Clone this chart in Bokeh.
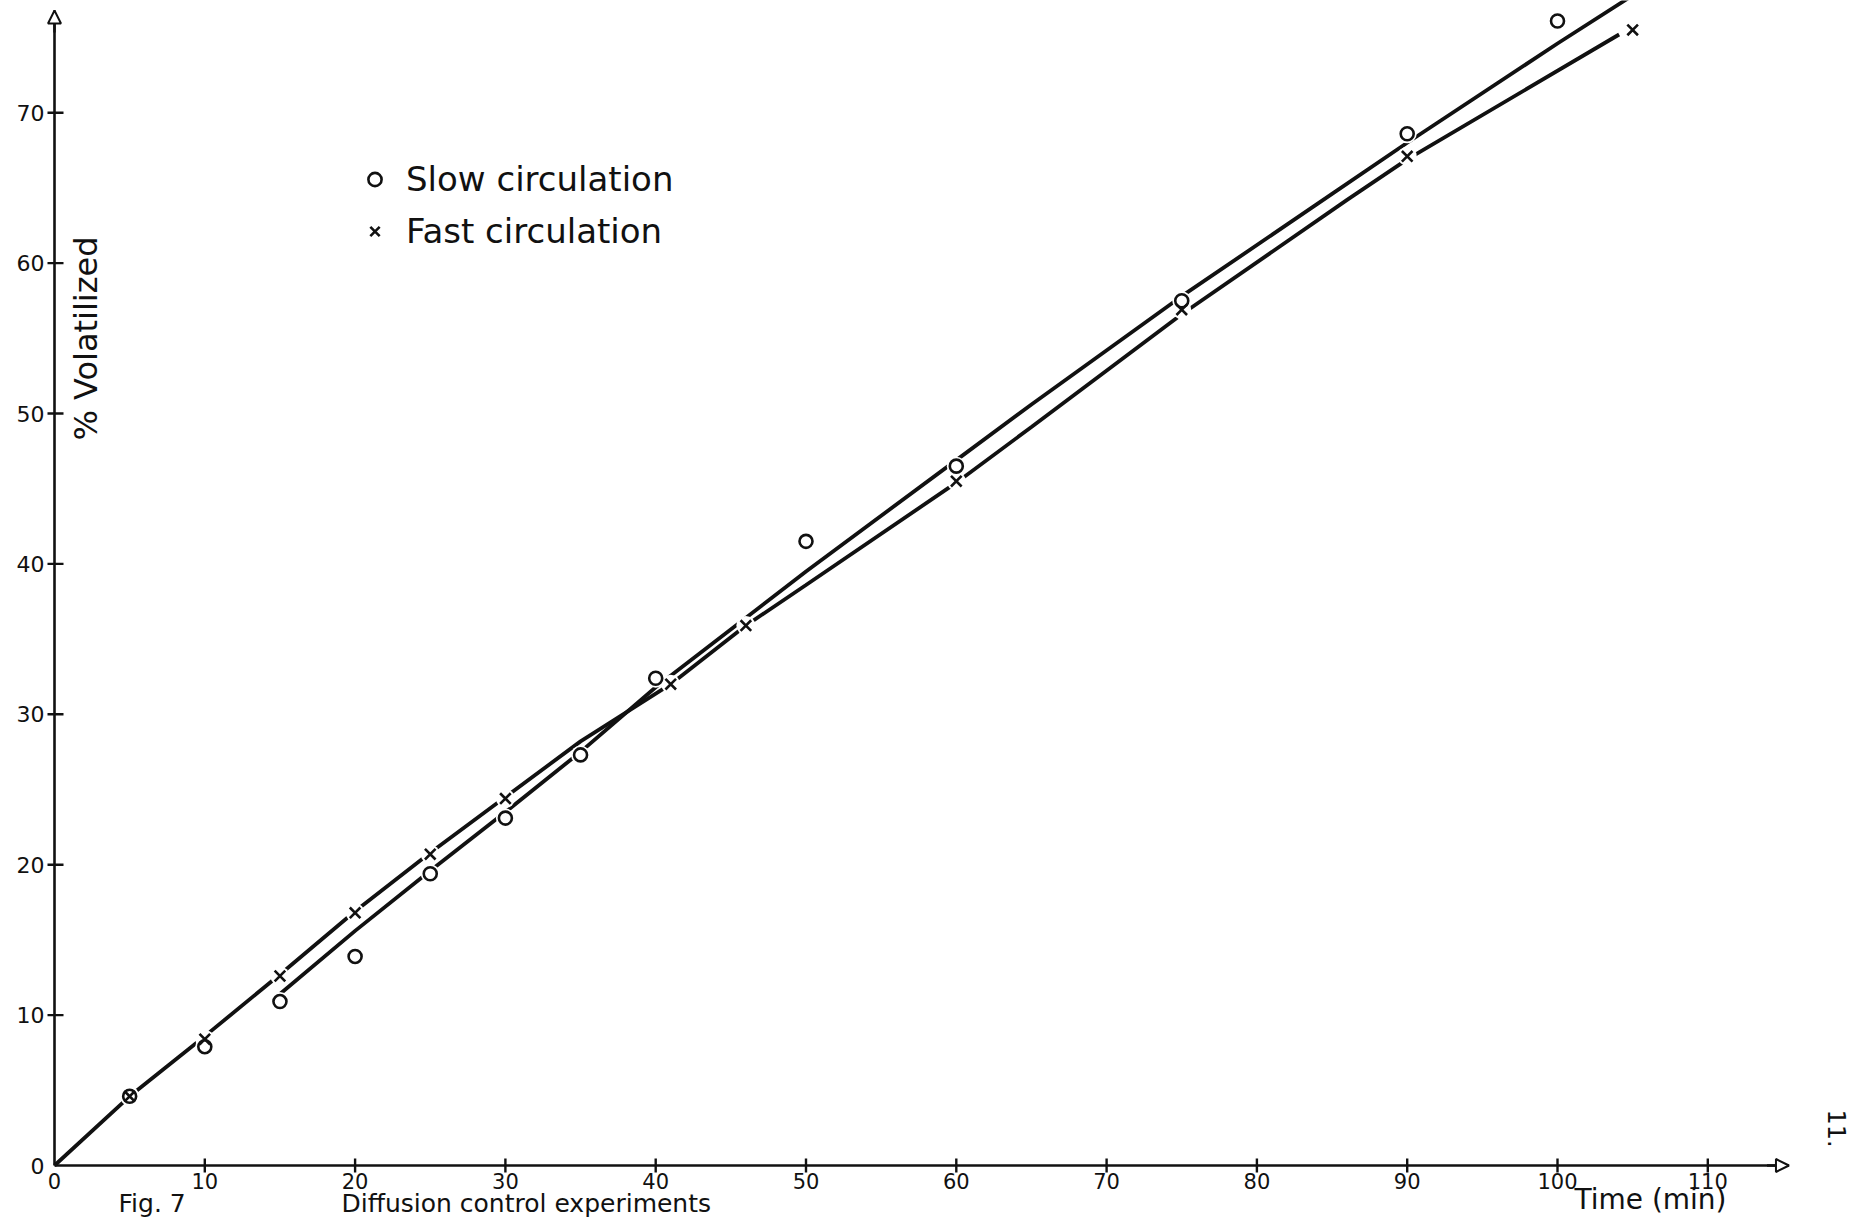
import math
from bokeh.plotting import figure
from bokeh.models import Range1d, Label, Arrow, NormalHead, Legend, LegendItem
from bokeh.core.properties import value
from bokeh.embed import file_html
from bokeh.resources import INLINE

# ---------------- data ----------------
time_slow = [5, 10, 15, 20, 25, 30, 35, 40, 50, 60, 75, 90, 100]
pct_slow = [4.6, 7.9, 10.9, 13.9, 19.4, 23.1, 27.3, 32.4, 41.5, 46.5, 57.5, 68.6, 76.1]

time_fast = [5, 10, 15, 20, 25, 30, 41, 46, 60, 75, 90, 105]
pct_fast = [4.6, 8.4, 12.6, 16.8, 20.7, 24.4, 32.0, 35.9, 45.5, 56.9, 67.1, 75.5]

# hand-drawn curves through the points
slow_curve_t = [15, 20, 25, 30, 35, 40, 50, 60, 65, 75, 85, 90, 100, 105]
slow_curve_v = [11.4, 15.6, 19.6, 23.5, 27.5, 31.8, 39.5, 46.9, 50.6, 57.8, 64.6, 68.0, 74.6, 77.8]

fast_curve_t = [0, 5, 10, 15, 20, 25, 30, 35, 41, 46, 50, 60, 65, 75, 86, 90, 104.1]
fast_curve_v = [0, 4.6, 8.6, 12.7, 16.9, 20.8, 24.5, 28.2, 32.0, 35.9, 38.6, 45.4, 49.1, 56.6, 64.2, 66.9, 75.2]

x_ticks = [0, 10, 20, 30, 40, 50, 60, 70, 80, 90, 100, 110]
y_ticks = [0, 10, 20, 30, 40, 50, 60, 70]

series_labels = ["Slow circulation", "Fast circulation"]
x_title = "Time (min)"
y_title = "% Volatilized"
caption_fig = "Fig. 7"
caption_text = "Diffusion control experiments"
page_no = "11."

# ---------------- layout ----------------
INK = "#111111"
FONT = "DejaVu Sans"
W, H = 1850, 1218
X0_PX, Y0_PX = 54, 1165          # canvas position of the origin
PXX, PXY = 15.03, 15.04          # pixels per data unit
X_AXIS_END, Y_AXIS_END = 115.4, 76.8


def dx(px):
    return px / PXX


def dy(px):
    return px / PXY


p = figure(width=W, height=H,
           x_range=Range1d(-dx(X0_PX), dx(W - X0_PX)),
           y_range=Range1d(-dy(H - Y0_PX), dy(Y0_PX)),
           min_border=0, min_border_left=0, min_border_right=0,
           min_border_top=0, min_border_bottom=0,
           output_backend="svg", toolbar_location=None)
p.axis.visible = False
p.grid.visible = False
p.outline_line_color = None
p.background_fill_color = "white"
p.border_fill_color = "white"

# ---- axes drawn on the data scale ----
p.segment(x0=[0, 0], y0=[0, 0], x1=[X_AXIS_END, 0], y1=[0, Y_AXIS_END],
          line_color=INK, line_width=2.6)
xt = x_ticks[1:]
p.segment(x0=xt, y0=[-dy(7)] * len(xt), x1=xt, y1=[dy(7)] * len(xt),
          line_color=INK, line_width=2.4)
yt = y_ticks[1:]
p.segment(x0=[-dx(7)] * len(yt), y0=yt, x1=[dx(9)] * len(yt), y1=yt,
          line_color=INK, line_width=2.4)
p.text(x=x_ticks, y=[-dy(15)] * len(x_ticks), text=[str(t) for t in x_ticks],
       text_align="center", text_baseline="middle", text_font=value(FONT),
       text_font_size="21px", text_color=INK)
p.text(x=[-dx(10)] * len(y_ticks), y=y_ticks, text=[str(t) for t in y_ticks],
       text_align="right", text_baseline="middle", text_font=value(FONT),
       text_font_size="22px", text_color=INK)

head = dict(size=13, fill_color="white", line_color=INK, line_width=2)
p.add_layout(Arrow(end=NormalHead(**head), x_start=0, y_start=Y_AXIS_END - dy(22),
                   x_end=0, y_end=Y_AXIS_END, line_color=INK, line_width=2.4))
p.add_layout(Arrow(end=NormalHead(**head), x_start=X_AXIS_END - dx(22), y_start=0,
                   x_end=X_AXIS_END, y_end=0, line_color=INK, line_width=2.4))

# ---- curves ----
p.line(fast_curve_t, fast_curve_v, line_color=INK, line_width=3.8)
p.line(slow_curve_t, slow_curve_v, line_color=INK, line_width=3.8)

# white halos (the pen lifts around each mark)
p.scatter(time_slow, pct_slow, marker="circle", size=19, fill_color="white", line_color=None)
p.scatter(time_fast, pct_fast, marker="circle", size=19, fill_color="white", line_color=None)

r_slow = p.scatter(time_slow, pct_slow, marker="circle", size=13,
                   fill_color=None, line_color=INK, line_width=2.6)
r_fast = p.scatter(time_fast, pct_fast, marker="x", size=15,
                   line_color=INK, line_width=2.6)

legend = Legend(items=[LegendItem(label=series_labels[0], renderers=[r_slow]),
                       LegendItem(label=series_labels[1], renderers=[r_fast])],
                location=(358, 967), border_line_color=None, background_fill_alpha=0,
                label_text_font=FONT, label_text_font_size="34px", label_text_color=INK,
                glyph_width=33, glyph_height=36, label_height=36, spacing=12,
                padding=0, margin=0, label_standoff=15)
p.add_layout(legend)

# ---- texts ----
p.add_layout(Label(x=dx(1650 - X0_PX), y=-dy(1199 - Y0_PX), text=x_title,
                   text_align="center", text_baseline="middle", text_font=FONT,
                   text_font_size="28px", text_color=INK))
p.add_layout(Label(x=dx(85 - X0_PX), y=dy(Y0_PX - 338), text=y_title, angle=math.pi / 2,
                   text_align="center", text_baseline="middle", text_font=FONT,
                   text_font_size="32px", text_color=INK))
p.add_layout(Label(x=dx(1836 - X0_PX), y=dy(Y0_PX - 1128), text=page_no, angle=-math.pi / 2,
                   text_align="center", text_baseline="middle", text_font=FONT,
                   text_font_size="24px", text_color=INK))
cap_y = -dy(1203 - Y0_PX)
p.add_layout(Label(x=dx(118 - X0_PX), y=cap_y, text=caption_fig, text_align="left",
                   text_baseline="middle", text_font=FONT, text_font_size="25px",
                   text_color=INK))
p.add_layout(Label(x=dx(341 - X0_PX), y=cap_y, text=caption_text, text_align="left",
                   text_baseline="middle", text_font=FONT, text_font_size="25px",
                   text_color=INK))

open("out.html", "w").write(file_html(p, INLINE))
